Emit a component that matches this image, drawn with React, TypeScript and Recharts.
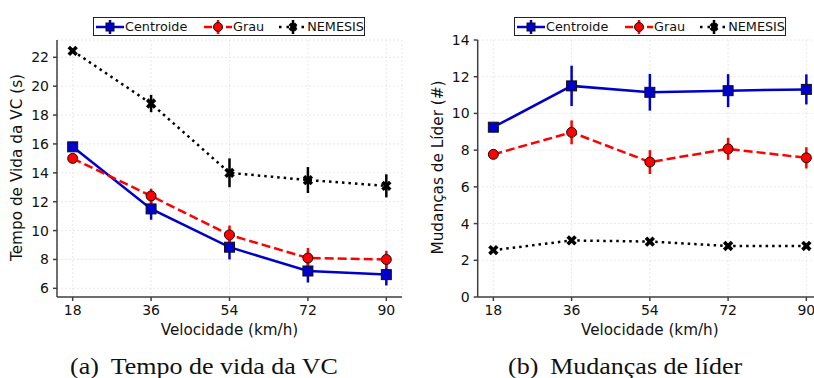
import { LineChart, Line, XAxis, YAxis, CartesianGrid, ErrorBar, Label } from 'recharts';

// velocidades (km/h)
const speeds = [18, 36, 54, 72, 90];

// (a) tempo de vida da VC (s)
const lifeCentroide = [15.8, 11.5, 8.85, 7.2, 6.95];
const lifeCentroideErr = [0.2, 0.75, 0.85, 0.8, 0.75];
const lifeGrau = [15.0, 12.4, 9.7, 8.1, 8.0];
const lifeGrauErr = [0.2, 0.5, 0.65, 0.7, 0.6];
const lifeNemesis = [22.45, 18.8, 14.0, 13.5, 13.1];
const lifeNemesisErr = [0.15, 0.6, 1.0, 0.9, 0.8];

// (b) mudancas de lider (#)
const leadCentroide = [9.25, 11.5, 11.15, 11.24, 11.31];
const leadCentroideErr = [0.2, 1.1, 1.0, 0.9, 0.82];
const leadGrau = [7.77, 8.97, 7.35, 8.07, 7.58];
const leadGrauErr = [0.2, 0.65, 0.65, 0.6, 0.58];
const leadNemesis = [2.55, 3.08, 3.02, 2.78, 2.78];
const leadNemesisErr = [0.1, 0.12, 0.1, 0.1, 0.1];

const lifeTicks = [6, 8, 10, 12, 14, 16, 18, 20, 22];
const leadTicks = [0, 2, 4, 6, 8, 10, 12, 14];

const BLUE = '#0000cc';
const RED = '#ff0000';
const AXIS = '#404040';
const FONT = 'DejaVu Sans, sans-serif';

const lifeData = speeds.map((s, i) => ({
  speed: s,
  centroide: lifeCentroide[i],
  centroideErr: lifeCentroideErr[i],
  grau: lifeGrau[i],
  grauErr: lifeGrauErr[i],
  nemesis: lifeNemesis[i],
  nemesisErr: lifeNemesisErr[i],
}));

const leadData = speeds.map((s, i) => ({
  speed: s,
  centroide: leadCentroide[i],
  centroideErr: leadCentroideErr[i],
  grau: leadGrau[i],
  grauErr: leadGrauErr[i],
  nemesis: leadNemesis[i],
  nemesisErr: leadNemesisErr[i],
}));

const SquareDot = (p: any) => (
  <rect key={p.index} x={p.cx - 5} y={p.cy - 5} width={10} height={10} fill={BLUE} stroke="#111" strokeWidth={1} />
);
const CircleDot = (p: any) => (
  <circle key={p.index} cx={p.cx} cy={p.cy} r={5} fill={RED} stroke="#111" strokeWidth={1} />
);
const XDot = (p: any) => (
  <g key={p.index} transform={`translate(${p.cx},${p.cy})`}>
    <rect x={-5.5} y={-1.8} width={11} height={3.6} fill="#000" transform="rotate(45)" />
    <rect x={-5.5} y={-1.8} width={11} height={3.6} fill="#000" transform="rotate(-45)" />
  </g>
);

function LegendBox() {
  const item = (color: string, dash: string | undefined, marker: any, text: string, w: number) => (
    <div style={{ display: 'flex', alignItems: 'center', width: w }}>
      <svg width={28} height={16} style={{ marginRight: 1 }}>
        <line x1={0} x2={28} y1={8} y2={8} stroke={color} strokeWidth={2.5} strokeDasharray={dash} />
        <line x1={14} x2={14} y1={1} y2={15} stroke={color} strokeWidth={2.5} />
        {marker}
      </svg>
      <span>{text}</span>
    </div>
  );
  return (
    <div
      style={{
        display: 'flex',
        alignItems: 'center',
        height: 19,
        width: 272,
        boxSizing: 'border-box',
        border: '1px solid #222',
        background: '#fff',
        fontFamily: FONT,
        fontSize: 12.8,
        color: '#111',
        paddingLeft: 2,
      }}
    >
      {item(BLUE, undefined, <rect x={10} y={4} width={8} height={8} fill={BLUE} stroke="#111" />, 'Centroide', 108)}
      {item(RED, '8 3', <circle cx={14} cy={8} r={4.5} fill={RED} stroke="#111" />, 'Grau', 75)}
      {item('#000', '2.5 5', <g transform="translate(14,8)"><rect x={-4.5} y={-1.8} width={9} height={3.6} transform="rotate(45)" /><rect x={-4.5} y={-1.8} width={9} height={3.6} transform="rotate(-45)" /></g>, 'NEMESIS', 85)}
    </div>
  );
}

function Panel({ data, domain, ticks, yLabel, width, marginLeft, yLabelX }: any) {
  const plotLeft = marginLeft + 45;
  const plotRight = width - 8;
  const midX = (plotLeft + plotRight) / 2;
  return (
    <LineChart width={width} height={378} data={data} margin={{ top: 40, right: 8, bottom: 51, left: marginLeft }}>
      <CartesianGrid stroke="#e8e8e8" strokeDasharray="2 2" />
      <XAxis
        dataKey="speed"
        type="number"
        domain={[14.4, 93.6]}
        ticks={speeds}
        allowDataOverflow
        height={30}
        stroke={AXIS}
        strokeWidth={1.5}
        tickSize={4}
        tickMargin={4}
        tick={{ fill: '#111', fontSize: 14, fontFamily: FONT }}
      >
        <Label
          content={() => (
            <text x={midX} y={330} textAnchor="middle" dominantBaseline="central" fontFamily={FONT} fontSize={15.2} fill="#111">
              Velocidade (km/h)
            </text>
          )}
        />
      </XAxis>
      <XAxis xAxisId="top" orientation="top" dataKey="speed" type="number" domain={[14.4, 93.6]} height={0} tick={false} tickLine={false} stroke={AXIS} strokeWidth={1.5} />
      <YAxis
        type="number"
        domain={domain}
        ticks={ticks}
        allowDataOverflow
        width={45}
        stroke={AXIS}
        strokeWidth={1.5}
        tickSize={4}
        tickMargin={4}
        tick={{ fill: '#111', fontSize: 14, fontFamily: FONT }}
      >
        <Label
          content={() => (
            <text
              x={yLabelX}
              y={167.5}
              transform={`rotate(-90 ${yLabelX} 167.5)`}
              textAnchor="middle"
              dominantBaseline="central"
              fontFamily={FONT}
              fontSize={15.3}
              fill="#111"
            >
              {yLabel}
            </text>
          )}
        />
      </YAxis>
      <YAxis yAxisId="right" orientation="right" width={0} tick={false} tickLine={false} stroke={AXIS} strokeWidth={1.5} />
      <Line dataKey="centroide" stroke={BLUE} strokeWidth={2.5} dot={SquareDot} isAnimationActive={false}>
        <ErrorBar dataKey="centroideErr" direction="y" width={0} stroke={BLUE} strokeWidth={2.5} />
      </Line>
      <Line dataKey="grau" stroke={RED} strokeWidth={2.5} strokeDasharray="9 4" dot={CircleDot} isAnimationActive={false}>
        <ErrorBar dataKey="grauErr" direction="y" width={0} stroke={RED} strokeWidth={2.5} />
      </Line>
      <Line dataKey="nemesis" stroke="#000" strokeWidth={2.5} strokeDasharray="2.5 4" dot={XDot} isAnimationActive={false}>
        <ErrorBar dataKey="nemesisErr" direction="y" width={0} stroke="#000" strokeWidth={2.5} />
      </Line>
    </LineChart>
  );
}

export default function App() {
  const caption = {
    position: 'absolute' as const,
    top: 354.7,
    fontFamily: 'Liberation Serif, Times New Roman, serif',
    fontSize: 23,
    lineHeight: 1,
    color: '#111',
    whiteSpace: 'nowrap' as const,
    transform: 'scaleX(1.13)',
    transformOrigin: 'left top',
  };
  return (
    <div style={{ position: 'absolute', left: 0, top: 0, width: 814, height: 378, background: '#fff', overflow: 'hidden' }}>
      <div style={{ position: 'absolute', left: 0, top: 0, width: 410, height: 378 }}>
        <Panel data={lifeData} domain={[5.4, 23.2]} ticks={lifeTicks} yLabel="Tempo de Vida da VC (s)" width={410} marginLeft={12} yLabelX={16.5} />
      </div>
      <div style={{ position: 'absolute', left: 410, top: 0, width: 404, height: 378, overflow: 'hidden' }}>
        <Panel data={leadData} domain={[0, 14]} ticks={leadTicks} yLabel="Mudanças de Líder (#)" width={420} marginLeft={22.7} yLabelX={27.5} />
      </div>
      <div style={{ position: 'absolute', left: 93, top: 17 }}>
        <LegendBox />
      </div>
      <div style={{ position: 'absolute', left: 514, top: 17 }}>
        <LegendBox />
      </div>
      <div style={{ ...caption, left: 70 }}>
        (a)<span style={{ marginLeft: 10.5 }}>Tempo de vida da VC</span>
      </div>
      <div style={{ ...caption, left: 508 }}>
        (b)<span style={{ marginLeft: 10.5 }}>Mudanças de líder</span>
      </div>
    </div>
  );
}
